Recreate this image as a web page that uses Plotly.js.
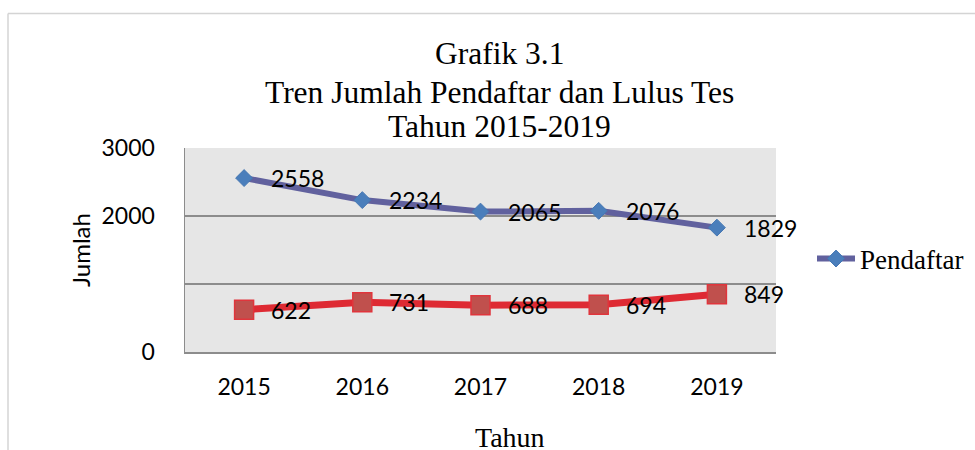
<!DOCTYPE html>
<html>
<head>
<meta charset="utf-8">
<script src="https://cdn.plot.ly/plotly-3.0.1.min.js"></script>
<style>
html,body{margin:0;padding:0;background:#fff;}
#chart{width:975px;height:450px;}
</style>
</head>
<body>
<div id="chart"></div>
<script>
// ---- data ----
var years = ['2015', '2016', '2017', '2018', '2019'];
var pendaftar = [2558, 2234, 2065, 2076, 1829];
var lulus = [622, 731, 688, 694, 849];
var yTickVals = [0, 1000, 2000, 3000];
var yTickText = ['0', '', '2000', '3000'];
var seriesNames = ['Pendaftar', 'Lulus Tes'];
var titleLines = ['Grafik 3.1', 'Tren Jumlah Pendaftar dan Lulus Tes', 'Tahun 2015-2019'];
var xTitle = 'Tahun';
var yTitle = 'Jumlah';

// ---- layout constants ----
var W = 975, H = 450;
var L = 185, R = 199, T = 148, B = 98;
var pw = W - L - R, ph = H - T - B;
function px2x(px) { return (px - L) / pw; }
function px2y(py) { return (H - B - py) / ph; }

var serif = 'Liberation Serif, Times New Roman, serif';
var sans = 'Lato, Open Sans, sans-serif';

var traces = [
  {
    x: years, y: pendaftar, name: seriesNames[0], type: 'scatter', mode: 'lines+markers',
    line: {color: '#61619e', width: 6},
    marker: {symbol: 'diamond', size: 13, color: '#4a7ebb', line: {color: '#4577b3', width: 1}},
    hoverinfo: 'x+y'
  },
  {
    x: years, y: lulus, name: seriesNames[1], type: 'scatter', mode: 'lines+markers',
    line: {color: '#de2a33', width: 7},
    marker: {symbol: 'square', size: 19, color: '#c0504d', line: {color: '#e0353c', width: 1.5}},
    showlegend: false, hoverinfo: 'x+y'
  }
];

var annotations = [];
[pendaftar, lulus].forEach(function (arr) {
  arr.forEach(function (v, i) {
    annotations.push({
      x: i, y: v, xref: 'x', yref: 'y', text: String(v), showarrow: false,
      xanchor: 'left', yanchor: 'middle', xshift: 25,
      font: {family: sans, size: 23, color: '#000'}
    });
  });
});
annotations.push({
  x: px2x(510), y: px2y(437), xref: 'paper', yref: 'paper', text: xTitle, showarrow: false,
  xanchor: 'center', yanchor: 'middle', font: {family: serif, size: 28, color: '#000'}
});
var titleY = [53, 92, 127];
titleLines.forEach(function (t, i) {
  annotations.push({
    x: px2x(499), y: px2y(titleY[i]), xref: 'paper', yref: 'paper', text: t, showarrow: false,
    xanchor: 'center', yanchor: 'middle', font: {family: serif, size: 31.5, color: '#000'}
  });
});

var layout = {
  width: W, height: H,
  margin: {l: L, r: R, t: T, b: B, pad: 0, autoexpand: false},
  paper_bgcolor: '#fff',
  plot_bgcolor: '#e6e6e6',
  showlegend: true,
  legend: {
    x: px2x(812), y: px2y(259), xanchor: 'left', yanchor: 'middle',
    font: {family: serif, size: 27, color: '#000'},
    itemwidth: 38, bgcolor: 'rgba(0,0,0,0)', borderwidth: 0
  },
  xaxis: {
    type: 'category', range: [-0.5, 4.5],
    showgrid: false, zeroline: false,
    showline: true, linecolor: '#8c8c8c', linewidth: 1.5,
    ticks: '', ticklabelstandoff: 14,
    tickfont: {family: sans, size: 23, color: '#000'},
    automargin: false, fixedrange: true
  },
  yaxis: {
    range: [0, 3000], tickvals: yTickVals, ticktext: yTickText,
    showgrid: true, gridcolor: '#8c8c8c', gridwidth: 1.5,
    zeroline: false,
    showline: true, linecolor: '#8c8c8c', linewidth: 1.5,
    ticks: '', ticklabelstandoff: 24,
    tickfont: {family: sans, size: 23, color: '#000'},
    title: {text: yTitle, font: {family: sans, size: 24, color: '#000'}, standoff: 4},
    automargin: false, fixedrange: true
  },
  annotations: annotations,
  shapes: [
    {type: 'line', xref: 'paper', yref: 'paper', x0: px2x(8), x1: px2x(990), y0: px2y(13.5), y1: px2y(13.5),
     line: {color: '#d4d4d4', width: 1.5}, layer: 'below'},
    {type: 'line', xref: 'paper', yref: 'paper', x0: px2x(8), x1: px2x(8), y0: px2y(13.5), y1: px2y(470),
     line: {color: '#d4d4d4', width: 1.5}, layer: 'below'}
  ]
};

Plotly.newPlot('chart', traces, layout, {displayModeBar: false, staticPlot: true});
</script>
</body>
</html>
